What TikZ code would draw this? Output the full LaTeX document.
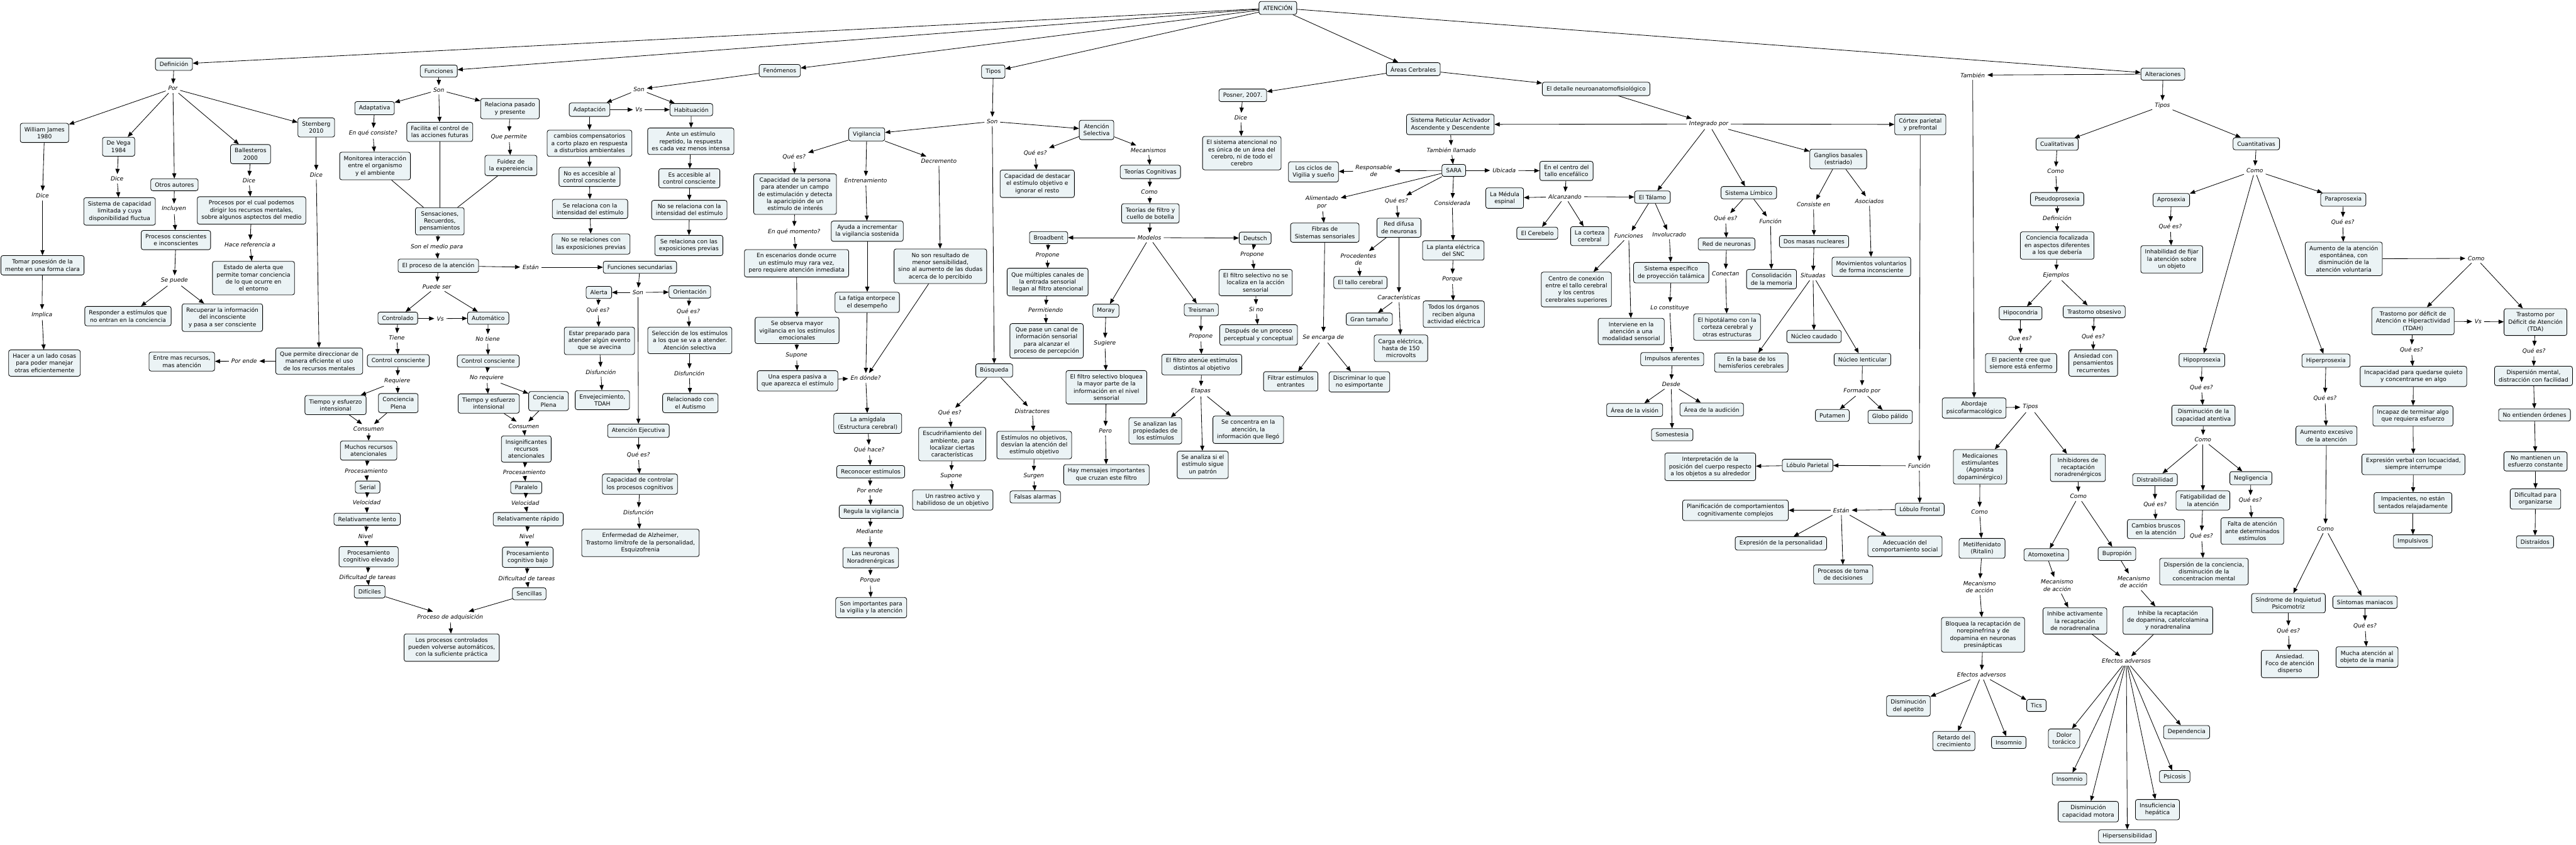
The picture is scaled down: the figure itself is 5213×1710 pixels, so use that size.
\documentclass[tikz,border=0pt]{standalone}
\usepackage{fontspec}
\setmainfont{DejaVu Sans}
\usetikzlibrary{arrows.meta}
\definecolor{cmapfill}{RGB}{235,243,245}
\newcommand{\cmfont}{\fontsize{3.3}{4.1}\selectfont}
\begin{document}
\begin{tikzpicture}[x=0.01cm, y=-0.01cm, line width=0.3pt,
    concept/.style={draw, fill=cmapfill, rounded corners=1.2pt, align=center, inner xsep=2.4pt, inner ysep=2.2pt, font=\cmfont},
    phrase/.style={align=center, inner sep=1.3pt, font=\cmfont\itshape},
    arr/.style={-{Triangle[length=3pt,width=2.4pt]}},
    ln/.style={-}
]
\useasboundingbox[fill=white] (0,0) rectangle (5213,1710);

% Raiz
\node[concept] (aten) at (2586,16) {ATENCIÓN};

% Definicion
\node[concept] (def) at (352,130) {Definición};
\node[phrase] (pPor) at (350,179) {Por};
\node[concept] (wj) at (90,269) {William James\\1980};
\node[concept] (dv) at (240,297) {De Vega\\1984};
\node[concept] (oa) at (353,374) {Otros autores};
\node[concept] (bal) at (507,312) {Ballesteros\\2000};
\node[concept] (ste) at (640,258) {Sternberg\\2010};
\node[phrase] (pDwj) at (86,396) {Dice};
\node[phrase] (pDdv) at (237,362) {Dice};
\node[phrase] (pDbal) at (504,366) {Dice};
\node[phrase] (pDste) at (640,354) {Dice};
\node[concept] (capLim) at (242,428) {Sistema de capacidad\\limitada y cuya\\disponibilidad fluctua};
\node[phrase] (pIncl) at (352,423) {Incluyen};
\node[concept] (procBal) at (509,426) {Procesos por el cual podemos\\dirigir los recursos mentales,\\sobre algunos asptectos del medio};
\node[concept] (procCon) at (356,486) {Procesos conscientes\\e inconscientes};
\node[phrase] (pHace) at (506,495) {Hace referencia a};
\node[concept] (tomar) at (86,537) {Tomar posesión de la\\mente en una forma clara};
\node[concept] (estado) at (513,563) {Estado de alerta que\\permite tomar conciencia\\de lo que ocurre en\\el entorno};
\node[phrase] (pSePuede) at (353,568) {Se puede};
\node[concept] (respond) at (259,640) {Responder a estímulos que\\no entran en la conciencia};
\node[concept] (recup) at (450,643) {Recuperar la información\\del inconsciente\\y pasa a ser consciente};
\node[phrase] (pImplica) at (85,637) {Implica};
\node[concept] (hacer) at (90,735) {Hacer a un lado cosas\\para poder manejar\\otras eficientemente};
\node[concept] (permite) at (646,731) {Que permite direccionar de\\manera eficiente el uso\\de los recursos mentales};
\node[phrase] (pPorEnde) at (494,731) {Por ende};
\node[concept] (entreMas) at (368,732) {Entre mas recursos,\\mas atención};

% Funciones
\node[concept] (fun) at (888,144) {Funciones};
\node[phrase] (pSonF) at (888,182) {Son};
\node[concept] (adaptv) at (758,219) {Adaptativa};
\node[concept] (facil) at (890,267) {Facilita el control de\\las acciones futuras};
\node[concept] (relac) at (1032,220) {Relaciona pasado\\y presente};
\node[phrase] (pConsiste) at (755,270) {En qué consiste?};
\node[phrase] (pQuePermite) at (1030,277) {Que permite};
\node[concept] (monit) at (759,336) {Monitorea interacción\\entre el organismo\\y el ambiente};
\node[concept] (fluid) at (1034,335) {Fuidez de\\la expereiencia};
\node[concept] (sens) at (890,448) {Sensaciones,\\Recuerdos,\\pensamientos};
\node[phrase] (pMedio) at (884,500) {Son el medio para};
\node[concept] (proc) at (887,538) {El proceso de la atención};
\node[phrase] (pEstan) at (1074,541) {Están};
\node[concept] (fsec) at (1295,541) {Funciones secundarias};
\node[phrase] (pPuede) at (884,580) {Puede ser};
\node[concept] (ctrl) at (805,644) {Controlado};
\node[phrase] (pVsC) at (891,645) {Vs};
\node[concept] (autom) at (988,644) {Automático};
\node[phrase] (pTiene) at (803,684) {Tiene};
\node[phrase] (pNoTiene) at (987,686) {No tiene};
\node[concept] (ccL) at (806,730) {Control consciente};
\node[concept] (ccR) at (988,731) {Control consciente};
\node[phrase] (pReq) at (804,771) {Requiere};
\node[phrase] (pNoReq) at (985,765) {No requiere};
\node[concept] (tieL) at (679,820) {Tiempo y esfuerzo\\intensional};
\node[concept] (conL) at (806,816) {Conciencia\\Plena};
\node[concept] (tieR) at (989,817) {Tiempo y esfuerzo\\intensional};
\node[concept] (conR) at (1110,812) {Conciencia\\Plena};
\node[phrase] (pConsL) at (746,868) {Consumen};
\node[phrase] (pConsR) at (1060,863) {Consumen};
\node[concept] (muchos) at (746,912) {Muchos recursos\\atencionales};
\node[concept] (insig) at (1065,909) {Insignificantes\\recursos\\atencionales};
\node[phrase] (pProcL) at (741,953) {Procesamiento};
\node[phrase] (pProcR) at (1061,956) {Procesamiento};
\node[concept] (serial) at (744,986) {Serial};
\node[concept] (paral) at (1065,987) {Paralelo};
\node[phrase] (pVelL) at (742,1017) {Velocidad};
\node[phrase] (pVelR) at (1063,1018) {Velocidad};
\node[concept] (lento) at (743,1051) {Relativamente lento};
\node[concept] (rapido) at (1069,1051) {Relativamente rápido};
\node[phrase] (pNivL) at (740,1086) {Nivel};
\node[phrase] (pNivR) at (1066,1086) {Nivel};
\node[concept] (elev) at (746,1127) {Procesamiento\\cognitivo elevado};
\node[concept] (bajo) at (1068,1128) {Procesamiento\\cognitivo bajo};
\node[phrase] (pDifL) at (744,1169) {Dificultad de tareas};
\node[phrase] (pDifR) at (1066,1171) {Dificultad de tareas};
\node[concept] (dificil) at (748,1198) {Difíciles};
\node[concept] (sencil) at (1071,1202) {Sencillas};
\node[phrase] (pAdq) at (911,1249) {Proceso de adquisición};
\node[concept] (losProc) at (914,1311) {Los procesos controlados\\pueden volverse automáticos,\\con la suficiente práctica};

% Fenomenos
\node[concept] (fen) at (1578,143) {Fenómenos};
\node[phrase] (pSonFen) at (1293,181) {Son};
\node[concept] (adapt) at (1193,222) {Adaptación};
\node[phrase] (pVsA) at (1293,222) {Vs};
\node[concept] (habit) at (1399,222) {Habituación};
\node[concept] (cambios) at (1193,290) {cambios compensatorios\\a corto plazo en respuesta\\a disturbios ambientales};
\node[concept] (noAcc) at (1193,358) {No es accesible al\\control consciente};
\node[concept] (seRel) at (1194,423) {Se relaciona con la\\intensidad del estímulo};
\node[concept] (noSeRel) at (1196,494) {No se relaciones con\\las exposiciones previas};
\node[concept] (ante) at (1398,286) {Ante un estímulo\\repetido, la respuesta\\es cada vez menos intensa};
\node[concept] (esAcc) at (1395,361) {Es accesible al\\control consciente};
\node[concept] (noSeRel2) at (1395,425) {No se relaciona con la\\intensidad del estímulo};
\node[concept] (seRel2) at (1394,497) {Se relaciona con las\\exposiciones previas};

% Funciones secundarias
\node[phrase] (pSonS) at (1291,592) {Son};
\node[concept] (alerta) at (1212,592) {Alerta};
\node[concept] (orient) at (1396,591) {Orientación};
\node[phrase] (pQAl) at (1210,628) {Qué es?};
\node[concept] (estar) at (1213,690) {Estar preparado para\\atender algún evento\\que se avecina};
\node[phrase] (pDisAl) at (1216,753) {Disfunción};
\node[concept] (envej) at (1219,810) {Envejecimiento,\\TDAH};
\node[phrase] (pQOr) at (1393,630) {Qué es?};
\node[concept] (selec) at (1396,689) {Selección de los estímulos\\a los que se va a atender.\\Atención selectiva};
\node[phrase] (pDisOr) at (1395,756) {Disfunción};
\node[concept] (relAut) at (1397,816) {Relacionado con\\el Autismo};
\node[concept] (aej) at (1292,872) {Atención Ejecutiva};
\node[phrase] (pQAe) at (1292,921) {Qué es?};
\node[concept] (capCtrl) at (1295,980) {Capacidad de controlar\\los procesos cognitivos};
\node[phrase] (pDisAe) at (1292,1037) {Disfunción};
\node[concept] (enferm) at (1296,1099) {Enfermedad de Alzheimer,\\Trastorno limítrofe de la personalidad,\\Esquizofrenia};

% Tipos
\node[concept] (tip) at (2010,145) {Tipos};
\node[phrase] (pSonT) at (2008,246) {Son};
\node[concept] (vig) at (1754,272) {Vigilancia};
\node[concept] (asel) at (2219,263) {Atención\\Selectiva};
\node[phrase] (pQVig) at (1607,318) {Qué es?};
\node[phrase] (pEntr) at (1752,366) {Entrenamiento};
\node[phrase] (pDecr) at (1900,326) {Decremento};
\node[concept] (capPer) at (1609,393) {Capacidad de la persona\\para atender un campo\\de estimulación y detecta\\la aparicipión de un\\estímulo de interés};
\node[concept] (ayuda) at (1755,468) {Ayuda a incrementar\\la vigilancia sostenida};
\node[phrase] (pMomento) at (1607,469) {En qué momento?};
\node[concept] (escen) at (1612,533) {En escenarios donde ocurre\\un estímulo muy rara vez,\\pero requiere atención inmediata};
\node[concept] (noSon) at (1903,539) {No son resultado de\\menor sensibilidad,\\sino al aumento de las dudas\\acerca de lo percibido};
\node[concept] (fatiga) at (1755,612) {La fatiga entorpece\\el desempeño};
\node[concept] (seObs) at (1613,669) {Se observa mayor\\vigilancia en los estímulos\\emocionales};
\node[phrase] (pSupV) at (1612,719) {Supone};
\node[concept] (espera) at (1614,771) {Una espera pasiva a\\que aparezca el estímulo};
\node[phrase] (pDonde) at (1752,765) {En dónde?};
\node[concept] (amig) at (1756,857) {La amígdala\\(Estructura cerebral)};
\node[phrase] (pQHace) at (1759,911) {Qué hace?};
\node[concept] (recon) at (1762,955) {Reconocer estímulos};
\node[phrase] (pPorEnde2) at (1760,993) {Por ende};
\node[concept] (regula) at (1763,1036) {Regula la vigilancia};
\node[phrase] (pMediante) at (1760,1076) {Mediante};
\node[concept] (neur) at (1762,1129) {Las neuronas\\Noradrenérgicas};
\node[phrase] (pPorque) at (1761,1175) {Porque};
\node[concept] (sonImp) at (1763,1230) {Son importantes para\\la vigilia y la atención};

% Busqueda
\node[concept] (busq) at (2012,750) {Búsqueda};
\node[phrase] (pQBus) at (1922,836) {Qué es?};
\node[phrase] (pDistr) at (2089,832) {Distractores};
\node[concept] (escud) at (1927,899) {Escudriñamiento del\\ambiente, para\\localizar ciertas\\características};
\node[concept] (estNo) at (2093,901) {Estímulos no objetivos,\\desvían la atención del\\estímulo objetivo};
\node[phrase] (pSupB) at (1925,963) {Supone};
\node[phrase] (pSurgen) at (2092,964) {Surgen};
\node[concept] (rastreo) at (1928,1012) {Un rastreo activo y\\habilidoso de un objetivo};
\node[concept] (falsas) at (2095,1006) {Falsas alarmas};

% Atencion selectiva
\node[phrase] (pQAs) at (2095,310) {Qué es?};
\node[phrase] (pMec) at (2324,304) {Mecanismos};
\node[concept] (capDest) at (2099,372) {Capacidad de destacar\\el estímulo objetivo e\\ignorar el resto};
\node[concept] (teoCog) at (2328,348) {Teorías Cognitivas};
\node[phrase] (pComoT) at (2326,388) {Como};
\node[concept] (teoFil) at (2328,432) {Teorías de filtro y\\cuello de botella};
\node[phrase] (pModelos) at (2326,481) {Modelos};
\node[concept] (broad) at (2122,481) {Broadbent};
\node[concept] (deut) at (2540,482) {Deutsch};
\node[phrase] (pPropB) at (2120,517) {Propone};
\node[phrase] (pPropD) at (2534,516) {Propone};
\node[concept] (multi) at (2120,571) {Que múltiples canales de\\la entrada sensorial\\llegan al filtro atencional};
\node[phrase] (pPermit) at (2116,627) {Permitiendo};
\node[concept] (pase) at (2118,690) {Que pase un canal de\\información sensorial\\para alcanzar el\\proceso de percepción};
\node[concept] (noLoc) at (2541,572) {El filtro selectivo no se\\localiza en la acción\\sensorial};
\node[phrase] (pSiNo) at (2542,626) {Si no};
\node[concept] (despues) at (2547,678) {Después de un proceso\\perceptual y conceptual};
\node[concept] (moray) at (2238,629) {Moray};
\node[concept] (treis) at (2431,627) {Treisman};
\node[phrase] (pSug) at (2236,695) {Sugiere};
\node[concept] (bloquea) at (2239,784) {El filtro selectivo bloquea\\la mayor parte de la\\información en el nivel\\sensorial};
\node[phrase] (pPero) at (2237,872) {Pero};
\node[concept] (hay) at (2239,961) {Hay mensajes importantes\\que cruzan este filtro};
\node[phrase] (pPropT) at (2430,681) {Propone};
\node[concept] (atenue) at (2432,738) {El filtro atenúe estímulos\\distintos al objetivo};
\node[phrase] (pEtapas) at (2430,792) {Etapas};
\node[concept] (analizan) at (2338,872) {Se analizan las\\propiedades de\\los estímulos};
\node[concept] (analizaSi) at (2434,941) {Se analiza si el\\estímulo sigue\\un patrón};
\node[concept] (concentra) at (2526,870) {Se concentra en la\\atención, la\\información que llegó};

% Posner
\node[concept] (posner) at (2515,193) {Posner, 2007.};
\node[phrase] (pDicePos) at (2511,238) {Dice};
\node[concept] (sisAt) at (2513,310) {El sistema atencional no\\es única de un área del\\cerebro, ni de todo el\\cerebro};

% Areas cerebrales
\node[concept] (areas) at (2860,140) {Áreas Cerbrales};
\node[concept] (detalle) at (3230,180) {El detalle neuroanatomofisiológico};
\node[phrase] (pIntegr) at (3458,251) {Integrado por};
\node[concept] (sraad) at (2935,252) {Sistema Reticular Activador\\Ascendente y Descendente};
\node[concept] (cortex) at (3886,252) {Córtex parietal\\y prefrontal};
\node[phrase] (pTamb) at (2937,304) {También llamado};
\node[concept] (sara) at (2942,345) {SARA};
\node[phrase] (pResp) at (2780,346) {Responsable\\de};
\node[concept] (ciclos) at (2658,348) {Los ciclos de\\Vigilia y sueño};
\node[phrase] (pUbic) at (3044,345) {Ubicada};
\node[concept] (centroT) at (3170,346) {En el centro del\\tallo encefálico};
\node[phrase] (pAlim) at (2675,410) {Alimentado\\por};
\node[phrase] (pQSara) at (2826,406) {Qué es?};
\node[phrase] (pConsid) at (2939,411) {Considerada};
\node[concept] (fibras) at (2681,471) {Fibras de\\Sistemas sensoriales};
\node[concept] (redDif) at (2831,461) {Red difusa\\de neuronas};
\node[concept] (planta) at (2941,507) {La planta eléctrica\\del SNC};
\node[phrase] (pProced) at (2749,525) {Procedentes\\de};
\node[concept] (tallo) at (2753,572) {El tallo cerebral};
\node[phrase] (pCaract) at (2831,602) {Características};
\node[concept] (gran) at (2771,646) {Gran tamaño};
\node[concept] (carga) at (2835,705) {Carga eléctrica,\\hasta de 150\\microvolts};
\node[phrase] (pPorqueS) at (2939,565) {Porque};
\node[concept] (todos) at (2942,636) {Todos los órganos\\reciben alguna\\actividad eléctrica};
\node[phrase] (pEncarga) at (2678,683) {Se encarga de};
\node[concept] (filtrar) at (2612,772) {Filtrar estímulos\\entrantes};
\node[concept] (discr) at (2751,773) {Discriminar lo que\\no esimportante};
\node[phrase] (pAlcanz) at (3167,398) {Alcanzando};
\node[concept] (medula) at (3045,401) {La Médula\\espinal};
\node[concept] (talamo) at (3344,399) {El Tálamo};
\node[concept] (cerebelo) at (3111,472) {El Cerebelo};
\node[concept] (corteza) at (3217,478) {La corteza\\cerebral};
\node[phrase] (pFunT) at (3296,477) {Funciones};
\node[phrase] (pInvol) at (3378,475) {Involucrado};
\node[concept] (centroCon) at (3190,586) {Centro de conexión\\entre el tallo cerebral\\y los centros\\cerebrales superiores};
\node[concept] (sisEsp) at (3382,552) {Sistema específico\\de proyección talámica};
\node[concept] (interv) at (3301,671) {Interviene en la\\atención a una\\modalidad sensorial};
\node[phrase] (pConst) at (3379,623) {Lo constituye};
\node[concept] (impuls) at (3384,727) {Impulsos aferentes};
\node[phrase] (pDesde) at (3382,778) {Desde};
\node[concept] (vision) at (3308,830) {Área de la visión};
\node[concept] (audic) at (3464,829) {Área de la audición};
\node[concept] (somest) at (3384,880) {Somestesia};
\node[concept] (limb) at (3539,390) {Sistema Límbico};
\node[phrase] (pQLimb) at (3492,442) {Qué es?};
\node[phrase] (pFunL) at (3583,448) {Función};
\node[concept] (redNeu) at (3494,494) {Red de neuronas};
\node[phrase] (pConectan) at (3492,554) {Conectan};
\node[concept] (hipot) at (3495,662) {El hipotálamo con la\\corteza cerebral y\\otras estructuras};
\node[concept] (consol) at (3585,565) {Consolidación\\de la memoria};
\node[concept] (gangl) at (3720,322) {Ganglios basales\\(estriado)};
\node[phrase] (pConsisteG) at (3670,414) {Consiste en};
\node[phrase] (pAsoc) at (3783,407) {Asociados};
\node[concept] (dosMasas) at (3671,489) {Dos masas nucleares};
\node[concept] (movim) at (3787,540) {Movimientos voluntarios\\de forma inconsciente};
\node[phrase] (pSituadas) at (3669,558) {Situadas};
\node[concept] (basesH) at (3544,734) {En la base de los\\hemisferios cerebrales};
\node[concept] (caudado) at (3671,681) {Núcleo caudado};
\node[concept] (lentic) at (3769,728) {Núcleo lenticular};
\node[phrase] (pFormado) at (3768,791) {Formado por};
\node[concept] (putamen) at (3708,841) {Putamen};
\node[concept] (globo) at (3825,844) {Globo pálido};
\node[phrase] (pFunC) at (3884,943) {Función};
\node[concept] (parietal) at (3658,942) {Lóbulo Parietal};
\node[concept] (interp) at (3461,945) {Interpretación de la\\posición del cuerpo respecto\\a los objetos a su alrededor};
\node[concept] (frontal) at (3885,1031) {Lóbulo Frontal};
\node[phrase] (pEstanF) at (3726,1033) {Están};
\node[concept] (planif) at (3512,1033) {Planificación de comportamientos\\cognitivamente complejos};
\node[concept] (expres) at (3604,1100) {Expresión de la personalidad};
\node[concept] (adecu) at (3855,1106) {Adecuación del\\comportamiento social};
\node[concept] (tomaDec) at (3730,1163) {Procesos de toma\\de decisiones};

% Alteraciones
\node[concept] (alter) at (4377,150) {Alteraciones};
\node[phrase] (pTambien) at (3992,152) {También};
\node[phrase] (pTiposA) at (4376,214) {Tipos};
\node[concept] (cuali) at (4163,292) {Cualitativas};
\node[concept] (cuanti) at (4566,291) {Cuantitativas};
\node[phrase] (pComoCl) at (4160,347) {Como};
\node[phrase] (pComoCt) at (4563,345) {Como};
\node[concept] (pseudo) at (4163,403) {Pseudoprosexia};
\node[phrase] (pDefin) at (4163,442) {Definición};
\node[concept] (concFoc) at (4163,497) {Conciencia focalizada\\en aspectos diferentes\\a los que debería};
\node[phrase] (pEjem) at (4161,557) {Ejemplos};
\node[concept] (hipoc) at (4089,634) {Hipocondria};
\node[concept] (trObs) at (4238,631) {Trastorno obsesivo};
\node[phrase] (pQHc) at (4088,686) {Que es?};
\node[phrase] (pQTo) at (4236,681) {Qué es?};
\node[concept] (pacien) at (4090,735) {El paciente cree que\\siemore está enfermo};
\node[concept] (ansCon) at (4236,735) {Ansiedad con\\pensamientos\\recurrentes};
\node[concept] (aprox) at (4394,405) {Aprosexia};
\node[phrase] (pQAp) at (4392,459) {Qué es?};
\node[concept] (inhab) at (4395,525) {Inhabilidad de fijar\\la atención sobre\\un objeto};
\node[concept] (parap) at (4742,404) {Paraprosexia};
\node[phrase] (pQPa) at (4741,450) {Qué es?};
\node[concept] (aumEsp) at (4743,524) {Aumento de la atención\\espontánea, con\\disminución de la\\atención voluntaria};
\node[phrase] (pComoPa) at (5011,523) {Como};
\node[concept] (tdah) at (4883,650) {Trastorno por déficit de\\Atención e Hiperactividad\\(TDAH)};
\node[phrase] (pVsT) at (5015,651) {Vs};
\node[concept] (tda) at (5131,652) {Trastorno por\\Déficit de Atención\\(TDA)};
\node[phrase] (pQTdah) at (4880,708) {Qué es?};
\node[phrase] (pQTda) at (5128,711) {Qué es?};
\node[concept] (incapac) at (4884,762) {Incapacidad para quedarse quieto\\y concentrarse en algo};
\node[concept] (incapaz) at (4883,842) {Incapaz de terminar algo\\que requiera esfuerzo};
\node[concept] (expVerb) at (4884,940) {Expresión verbal con locuacidad,\\siempre interrumpe};
\node[concept] (impac) at (4883,1018) {Impacientes, no están\\sentados relajadamente};
\node[concept] (impulsv) at (4883,1096) {Impulsivos};
\node[concept] (dispM) at (5127,761) {Dispersión mental,\\distracción con facilidad};
\node[concept] (noEnt) at (5129,840) {No entienden órdenes};
\node[concept] (noMant) at (5131,934) {No mantienen un\\esfuerzo constante};
\node[concept] (dificult) at (5131,1010) {Dificultad para\\organizarse};
\node[concept] (distr) at (5130,1097) {Distraídos};
\node[concept] (hipop) at (4456,729) {Hipoprosexia};
\node[phrase] (pQHp) at (4455,784) {Qué es?};
\node[concept] (disCap) at (4459,841) {Disminución de la\\capacidad atentiva};
\node[phrase] (pComoHp) at (4458,890) {Como};
\node[concept] (distrab) at (4361,971) {Distrabilidad};
\node[concept] (fatig) at (4458,1013) {Fatigabilidad de\\la atención};
\node[concept] (negl) at (4555,968) {Negligencia};
\node[phrase] (pQDb) at (4361,1021) {Qué es?};
\node[phrase] (pQFt) at (4455,1085) {Qué es?};
\node[phrase] (pQNg) at (4554,1013) {Qué es?};
\node[concept] (cambB) at (4363,1071) {Cambios bruscos\\en la atención};
\node[concept] (faltaA) at (4558,1075) {Falta de atención\\ante determinados\\estímulos};
\node[concept] (dispC) at (4460,1157) {Dispersión de la conciencia,\\disminución de la\\concentracion mental};
\node[concept] (hiperp) at (4707,730) {Hiperprosexia};
\node[phrase] (pQHr) at (4705,806) {Qué es?};
\node[concept] (aumExc) at (4708,882) {Aumento excesivo\\de la atención};
\node[phrase] (pComoHr) at (4706,1070) {Como};
\node[concept] (sindr) at (4631,1221) {Síndrome de Inquietud\\Psicomotriz};
\node[concept] (sintom) at (4786,1219) {Síntomas maniacos};
\node[phrase] (pQSi) at (4631,1277) {Qué es?};
\node[phrase] (pQSm) at (4786,1267) {Qué es?};
\node[concept] (ansFoco) at (4634,1344) {Ansiedad.\\Foco de atención\\disperso};
\node[concept] (mucha) at (4790,1330) {Mucha atención al\\objeto de la manía};

% Abordaje
\node[concept] (abord) at (3995,826) {Abordaje\\psicofarmacológico};
\node[phrase] (pTiposAb) at (4109,824) {Tipos};
\node[concept] (medic) at (4007,945) {Medicaiones\\estimulantes\\(Agonista\\dopaminérgico)};
\node[concept] (inhib) at (4205,947) {Inhibidores de\\recaptación\\noradrenérgicos};
\node[phrase] (pComoMd) at (4006,1036) {Como};
\node[phrase] (pComoIn) at (4206,1005) {Como};
\node[concept] (metil) at (4011,1110) {Metilfenidato\\(Ritalin)};
\node[concept] (atomox) at (4141,1123) {Atomoxetina};
\node[concept] (bupro) at (4284,1121) {Bupropión};
\node[phrase] (pMecM) at (4006,1188) {Mecanismo\\de acción};
\node[phrase] (pMecA) at (4163,1185) {Mecanismo\\de acción};
\node[phrase] (pMecB) at (4318,1178) {Mecanismo\\de acción};
\node[concept] (bloq) at (4013,1285) {Bloquea la recaptación de\\norepinefrina y de\\dopamina en neuronas\\presinápticas};
\node[concept] (inhAct) at (4199,1257) {Inhibe activamente\\la recaptación\\de noradrenalina};
\node[concept] (inhRec) at (4387,1256) {Inhibe la recaptación\\de dopamina, catelcolamina\\y noradrenalina};
\node[phrase] (pEfM) at (4010,1366) {Efectos adversos};
\node[phrase] (pEfI) at (4303,1338) {Efectos adversos};
\node[concept] (apetito) at (3862,1429) {Disminución\\del apetito};
\node[concept] (retardo) at (3954,1500) {Retardo del\\crecimiento};
\node[concept] (insom1) at (4065,1503) {Insomnio};
\node[concept] (tics) at (4121,1428) {Tics};
\node[concept] (dolor) at (4177,1495) {Dolor\\torácico};
\node[concept] (depend) at (4425,1482) {Dependencia};
\node[concept] (insom2) at (4188,1577) {Insomnio};
\node[concept] (psicos) at (4401,1572) {Psicosis};
\node[concept] (dismMot) at (4226,1643) {Disminución\\capacidad motora};
\node[concept] (insuf) at (4366,1639) {Insuficiencia\\hepática};
\node[concept] (hipers) at (4305,1693) {Hipersensibilidad};

% Arrows
\draw[arr] (aten) -- (def); \draw[arr] (aten) -- (fun); \draw[arr] (aten) -- (fen);
\draw[arr] (aten) -- (tip); \draw[arr] (aten) -- (areas); \draw[arr] (aten) -- (alter);

\draw[arr] (def) -- (pPor);
\draw[arr] (pPor) -- (wj); \draw[arr] (pPor) -- (dv); \draw[arr] (pPor) -- (oa);
\draw[arr] (pPor) -- (bal); \draw[arr] (pPor) -- (ste);
\draw[arr] (wj) -- (pDwj); \draw[arr] (pDwj) -- (tomar); \draw[arr] (tomar) -- (pImplica); \draw[arr] (pImplica) -- (hacer);
\draw[arr] (dv) -- (pDdv); \draw[arr] (pDdv) -- (capLim);
\draw[arr] (oa) -- (pIncl); \draw[arr] (pIncl) -- (procCon); \draw[arr] (procCon) -- (pSePuede);
\draw[arr] (pSePuede) -- (respond); \draw[arr] (pSePuede) -- (recup);
\draw[arr] (bal) -- (pDbal); \draw[arr] (pDbal) -- (procBal); \draw[arr] (procBal) -- (pHace); \draw[arr] (pHace) -- (estado);
\draw[arr] (ste) -- (pDste); \draw[arr] (pDste) -- (permite); \draw[arr] (permite) -- (pPorEnde); \draw[arr] (pPorEnde) -- (entreMas);

\draw[arr] (fun) -- (pSonF);
\draw[arr] (pSonF) -- (adaptv); \draw[arr] (pSonF) -- (facil); \draw[arr] (pSonF) -- (relac);
\draw[arr] (adaptv) -- (pConsiste); \draw[arr] (pConsiste) -- (monit);
\draw[arr] (relac) -- (pQuePermite); \draw[arr] (pQuePermite) -- (fluid);
\draw[ln] (monit) -- (sens); \draw[ln] (facil) -- (sens); \draw[ln] (fluid) -- (sens);
\draw[arr] (sens) -- (pMedio); \draw[arr] (pMedio) -- (proc);
\draw[arr] (proc) -- (pEstan); \draw[arr] (pEstan) -- (fsec);
\draw[arr] (proc) -- (pPuede); \draw[arr] (pPuede) -- (ctrl); \draw[arr] (pPuede) -- (autom);
\draw[arr] (ctrl) -- (pVsC); \draw[arr] (pVsC) -- (autom);
\draw[arr] (ctrl) -- (pTiene); \draw[arr] (pTiene) -- (ccL); \draw[arr] (ccL) -- (pReq);
\draw[arr] (pReq) -- (tieL); \draw[arr] (pReq) -- (conL);
\draw[arr] (tieL) -- (pConsL); \draw[arr] (conL) -- (pConsL);
\draw[arr] (pConsL) -- (muchos); \draw[arr] (muchos) -- (pProcL); \draw[arr] (pProcL) -- (serial);
\draw[arr] (serial) -- (pVelL); \draw[arr] (pVelL) -- (lento); \draw[arr] (lento) -- (pNivL);
\draw[arr] (pNivL) -- (elev); \draw[arr] (elev) -- (pDifL); \draw[arr] (pDifL) -- (dificil); \draw[arr] (dificil) -- (pAdq);
\draw[arr] (autom) -- (pNoTiene); \draw[arr] (pNoTiene) -- (ccR); \draw[arr] (ccR) -- (pNoReq);
\draw[arr] (pNoReq) -- (tieR); \draw[arr] (pNoReq) -- (conR);
\draw[arr] (tieR) -- (pConsR); \draw[arr] (conR) -- (pConsR);
\draw[arr] (pConsR) -- (insig); \draw[arr] (insig) -- (pProcR); \draw[arr] (pProcR) -- (paral);
\draw[arr] (paral) -- (pVelR); \draw[arr] (pVelR) -- (rapido); \draw[arr] (rapido) -- (pNivR);
\draw[arr] (pNivR) -- (bajo); \draw[arr] (bajo) -- (pDifR); \draw[arr] (pDifR) -- (sencil); \draw[arr] (sencil) -- (pAdq);
\draw[arr] (pAdq) -- (losProc);

\draw[arr] (fen) -- (pSonFen); \draw[arr] (pSonFen) -- (adapt); \draw[arr] (pSonFen) -- (habit);
\draw[arr] (adapt) -- (pVsA); \draw[arr] (pVsA) -- (habit);
\draw[arr] (adapt) -- (cambios); \draw[arr] (cambios) -- (noAcc); \draw[arr] (noAcc) -- (seRel); \draw[arr] (seRel) -- (noSeRel);
\draw[arr] (habit) -- (ante); \draw[arr] (ante) -- (esAcc); \draw[arr] (esAcc) -- (noSeRel2); \draw[arr] (noSeRel2) -- (seRel2);

\draw[arr] (fsec) -- (pSonS);
\draw[arr] (pSonS) -- (alerta); \draw[arr] (pSonS) -- (orient); \draw[arr] (pSonS) -- (aej);
\draw[arr] (alerta) -- (pQAl); \draw[arr] (pQAl) -- (estar); \draw[arr] (estar) -- (pDisAl); \draw[arr] (pDisAl) -- (envej);
\draw[arr] (orient) -- (pQOr); \draw[arr] (pQOr) -- (selec); \draw[arr] (selec) -- (pDisOr); \draw[arr] (pDisOr) -- (relAut);
\draw[arr] (aej) -- (pQAe); \draw[arr] (pQAe) -- (capCtrl); \draw[arr] (capCtrl) -- (pDisAe); \draw[arr] (pDisAe) -- (enferm);

\draw[arr] (tip) -- (pSonT);
\draw[arr] (pSonT) -- (vig); \draw[arr] (pSonT) -- (asel); \draw[arr] (pSonT) -- (busq);
\draw[arr] (vig) -- (pQVig); \draw[arr] (pQVig) -- (capPer); \draw[arr] (capPer) -- (pMomento); \draw[arr] (pMomento) -- (escen);
\draw[arr] (escen) -- (seObs); \draw[arr] (seObs) -- (pSupV); \draw[arr] (pSupV) -- (espera); \draw[arr] (espera) -- (pDonde);
\draw[arr] (vig) -- (pEntr); \draw[arr] (pEntr) -- (ayuda); \draw[arr] (ayuda) -- (fatiga); \draw[arr] (fatiga) -- (pDonde);
\draw[arr] (vig) -- (pDecr); \draw[arr] (pDecr) -- (noSon); \draw[arr] (noSon) -- (pDonde);
\draw[arr] (pDonde) -- (amig); \draw[arr] (amig) -- (pQHace); \draw[arr] (pQHace) -- (recon); \draw[arr] (recon) -- (pPorEnde2);
\draw[arr] (pPorEnde2) -- (regula); \draw[arr] (regula) -- (pMediante); \draw[arr] (pMediante) -- (neur);
\draw[arr] (neur) -- (pPorque); \draw[arr] (pPorque) -- (sonImp);
\draw[arr] (busq) -- (pQBus); \draw[arr] (pQBus) -- (escud); \draw[arr] (escud) -- (pSupB); \draw[arr] (pSupB) -- (rastreo);
\draw[arr] (busq) -- (pDistr); \draw[arr] (pDistr) -- (estNo); \draw[arr] (estNo) -- (pSurgen); \draw[arr] (pSurgen) -- (falsas);
\draw[arr] (asel) -- (pQAs); \draw[arr] (pQAs) -- (capDest);
\draw[arr] (asel) -- (pMec); \draw[arr] (pMec) -- (teoCog); \draw[arr] (teoCog) -- (pComoT); \draw[arr] (pComoT) -- (teoFil);
\draw[arr] (teoFil) -- (pModelos);
\draw[arr] (pModelos) -- (broad); \draw[arr] (pModelos) -- (deut); \draw[arr] (pModelos) -- (moray); \draw[arr] (pModelos) -- (treis);
\draw[arr] (broad) -- (pPropB); \draw[arr] (pPropB) -- (multi); \draw[arr] (multi) -- (pPermit); \draw[arr] (pPermit) -- (pase);
\draw[arr] (deut) -- (pPropD); \draw[arr] (pPropD) -- (noLoc); \draw[arr] (noLoc) -- (pSiNo); \draw[arr] (pSiNo) -- (despues);
\draw[arr] (moray) -- (pSug); \draw[arr] (pSug) -- (bloquea); \draw[arr] (bloquea) -- (pPero); \draw[arr] (pPero) -- (hay);
\draw[arr] (treis) -- (pPropT); \draw[arr] (pPropT) -- (atenue); \draw[arr] (atenue) -- (pEtapas);
\draw[arr] (pEtapas) -- (analizan); \draw[arr] (pEtapas) -- (analizaSi); \draw[arr] (pEtapas) -- (concentra);

\draw[arr] (areas) -- (posner); \draw[arr] (posner) -- (pDicePos); \draw[arr] (pDicePos) -- (sisAt);
\draw[arr] (areas) -- (detalle); \draw[arr] (detalle) -- (pIntegr);
\draw[arr] (pIntegr) -- (sraad); \draw[arr] (pIntegr) -- (cortex); \draw[arr] (pIntegr) -- (talamo);
\draw[arr] (pIntegr) -- (limb); \draw[arr] (pIntegr) -- (gangl);
\draw[arr] (sraad) -- (pTamb); \draw[arr] (pTamb) -- (sara);
\draw[arr] (sara) -- (pResp); \draw[arr] (pResp) -- (ciclos);
\draw[arr] (sara) -- (pUbic); \draw[arr] (pUbic) -- (centroT); \draw[arr] (centroT) -- (pAlcanz);
\draw[arr] (pAlcanz) -- (medula); \draw[arr] (pAlcanz) -- (talamo); \draw[arr] (pAlcanz) -- (cerebelo); \draw[arr] (pAlcanz) -- (corteza);
\draw[arr] (sara) -- (pAlim); \draw[arr] (pAlim) -- (fibras); \draw[arr] (fibras) -- (pEncarga);
\draw[arr] (pEncarga) -- (filtrar); \draw[arr] (pEncarga) -- (discr);
\draw[arr] (sara) -- (pQSara); \draw[arr] (pQSara) -- (redDif); \draw[arr] (redDif) -- (pProced); \draw[arr] (pProced) -- (tallo);
\draw[arr] (redDif) -- (pCaract); \draw[arr] (pCaract) -- (gran); \draw[arr] (pCaract) -- (carga);
\draw[arr] (sara) -- (pConsid); \draw[arr] (pConsid) -- (planta); \draw[arr] (planta) -- (pPorqueS); \draw[arr] (pPorqueS) -- (todos);
\draw[arr] (talamo) -- (pFunT); \draw[arr] (pFunT) -- (centroCon); \draw[arr] (pFunT) -- (interv);
\draw[arr] (talamo) -- (pInvol); \draw[arr] (pInvol) -- (sisEsp); \draw[arr] (sisEsp) -- (pConst); \draw[arr] (pConst) -- (impuls);
\draw[arr] (impuls) -- (pDesde); \draw[arr] (pDesde) -- (vision); \draw[arr] (pDesde) -- (audic); \draw[arr] (pDesde) -- (somest);
\draw[arr] (limb) -- (pQLimb); \draw[arr] (pQLimb) -- (redNeu); \draw[arr] (redNeu) -- (pConectan); \draw[arr] (pConectan) -- (hipot);
\draw[arr] (limb) -- (pFunL); \draw[arr] (pFunL) -- (consol);
\draw[arr] (gangl) -- (pConsisteG); \draw[arr] (pConsisteG) -- (dosMasas); \draw[arr] (dosMasas) -- (pSituadas);
\draw[arr] (pSituadas) -- (basesH); \draw[arr] (pSituadas) -- (caudado); \draw[arr] (pSituadas) -- (lentic);
\draw[arr] (gangl) -- (pAsoc); \draw[arr] (pAsoc) -- (movim);
\draw[arr] (lentic) -- (pFormado); \draw[arr] (pFormado) -- (putamen); \draw[arr] (pFormado) -- (globo);
\draw[arr] (cortex) -- (pFunC); \draw[arr] (pFunC) -- (parietal); \draw[arr] (parietal) -- (interp);
\draw[arr] (pFunC) -- (frontal); \draw[arr] (frontal) -- (pEstanF);
\draw[arr] (pEstanF) -- (planif); \draw[arr] (pEstanF) -- (expres); \draw[arr] (pEstanF) -- (adecu); \draw[arr] (pEstanF) -- (tomaDec);

\draw[arr] (alter) -- (pTambien); \draw[arr] (pTambien) -- (abord);
\draw[arr] (alter) -- (pTiposA); \draw[arr] (pTiposA) -- (cuali); \draw[arr] (pTiposA) -- (cuanti);
\draw[arr] (cuali) -- (pComoCl); \draw[arr] (pComoCl) -- (pseudo); \draw[arr] (pseudo) -- (pDefin); \draw[arr] (pDefin) -- (concFoc);
\draw[arr] (concFoc) -- (pEjem); \draw[arr] (pEjem) -- (hipoc); \draw[arr] (pEjem) -- (trObs);
\draw[arr] (hipoc) -- (pQHc); \draw[arr] (pQHc) -- (pacien); \draw[arr] (trObs) -- (pQTo); \draw[arr] (pQTo) -- (ansCon);
\draw[arr] (cuanti) -- (pComoCt);
\draw[arr] (pComoCt) -- (aprox); \draw[arr] (pComoCt) -- (parap); \draw[arr] (pComoCt) -- (hipop); \draw[arr] (pComoCt) -- (hiperp);
\draw[arr] (aprox) -- (pQAp); \draw[arr] (pQAp) -- (inhab);
\draw[arr] (parap) -- (pQPa); \draw[arr] (pQPa) -- (aumEsp); \draw[arr] (aumEsp) -- (pComoPa);
\draw[arr] (pComoPa) -- (tdah); \draw[arr] (pComoPa) -- (tda); \draw[arr] (tdah) -- (pVsT); \draw[arr] (pVsT) -- (tda);
\draw[arr] (tdah) -- (pQTdah); \draw[arr] (pQTdah) -- (incapac); \draw[arr] (incapac) -- (incapaz);
\draw[arr] (incapaz) -- (expVerb); \draw[arr] (expVerb) -- (impac); \draw[arr] (impac) -- (impulsv);
\draw[arr] (tda) -- (pQTda); \draw[arr] (pQTda) -- (dispM); \draw[arr] (dispM) -- (noEnt);
\draw[arr] (noEnt) -- (noMant); \draw[arr] (noMant) -- (dificult); \draw[arr] (dificult) -- (distr);
\draw[arr] (hipop) -- (pQHp); \draw[arr] (pQHp) -- (disCap); \draw[arr] (disCap) -- (pComoHp);
\draw[arr] (pComoHp) -- (distrab); \draw[arr] (pComoHp) -- (fatig); \draw[arr] (pComoHp) -- (negl);
\draw[arr] (distrab) -- (pQDb); \draw[arr] (pQDb) -- (cambB);
\draw[arr] (fatig) -- (pQFt); \draw[arr] (pQFt) -- (dispC);
\draw[arr] (negl) -- (pQNg); \draw[arr] (pQNg) -- (faltaA);
\draw[arr] (hiperp) -- (pQHr); \draw[arr] (pQHr) -- (aumExc); \draw[arr] (aumExc) -- (pComoHr);
\draw[arr] (pComoHr) -- (sindr); \draw[arr] (pComoHr) -- (sintom);
\draw[arr] (sindr) -- (pQSi); \draw[arr] (pQSi) -- (ansFoco); \draw[arr] (sintom) -- (pQSm); \draw[arr] (pQSm) -- (mucha);

\draw[arr] (abord) -- (pTiposAb); \draw[arr] (pTiposAb) -- (medic); \draw[arr] (pTiposAb) -- (inhib);
\draw[arr] (medic) -- (pComoMd); \draw[arr] (pComoMd) -- (metil); \draw[arr] (metil) -- (pMecM); \draw[arr] (pMecM) -- (bloq);
\draw[arr] (bloq) -- (pEfM);
\draw[arr] (pEfM) -- (apetito); \draw[arr] (pEfM) -- (retardo); \draw[arr] (pEfM) -- (insom1); \draw[arr] (pEfM) -- (tics);
\draw[arr] (inhib) -- (pComoIn); \draw[arr] (pComoIn) -- (atomox); \draw[arr] (pComoIn) -- (bupro);
\draw[arr] (atomox) -- (pMecA); \draw[arr] (pMecA) -- (inhAct); \draw[arr] (inhAct) -- (pEfI);
\draw[arr] (bupro) -- (pMecB); \draw[arr] (pMecB) -- (inhRec); \draw[arr] (inhRec) -- (pEfI);
\draw[arr] (pEfI) -- (dolor); \draw[arr] (pEfI) -- (insom2); \draw[arr] (pEfI) -- (dismMot); \draw[arr] (pEfI) -- (hipers);
\draw[arr] (pEfI) -- (insuf); \draw[arr] (pEfI) -- (psicos); \draw[arr] (pEfI) -- (depend);

\end{tikzpicture}
\end{document}
